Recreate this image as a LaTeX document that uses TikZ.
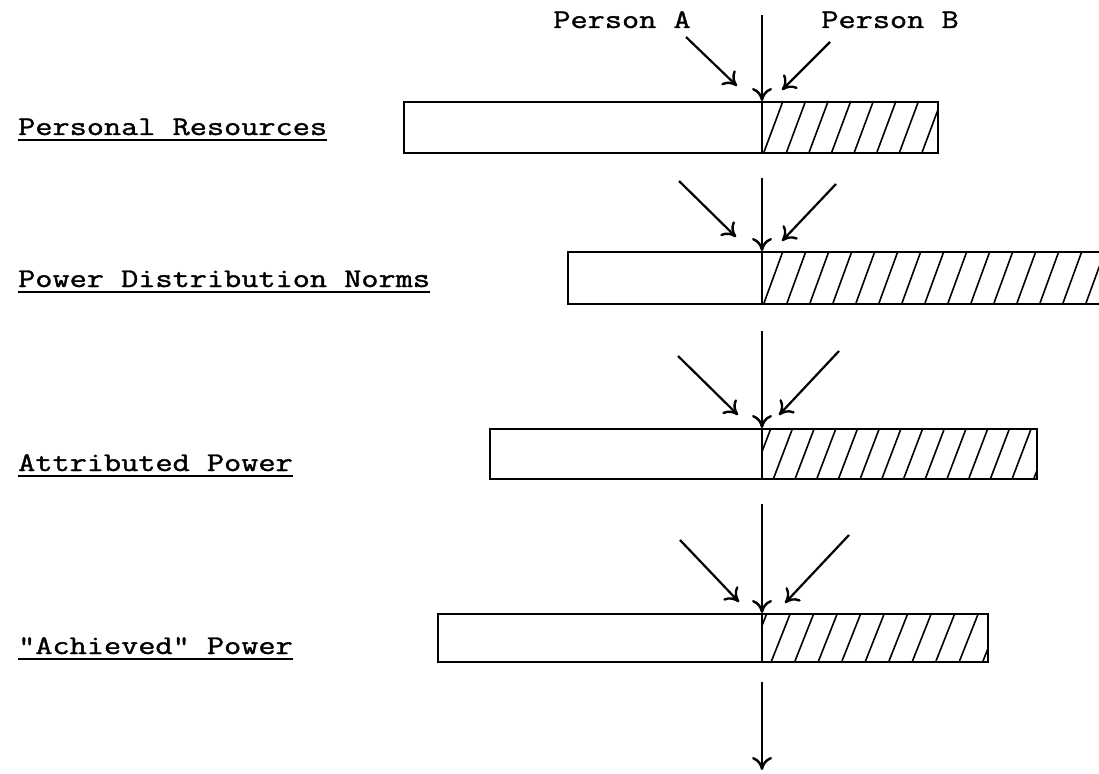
\documentclass[tikz,border=0pt]{standalone}
\usepackage{fontspec}
\newfontfamily\typew[FakeBold=1.2]{Latin Modern Mono}
\usetikzlibrary{arrows.meta}
\newcommand{\tw}[1]{\scalebox{1.234}[1]{\typew\fontsize{27}{30}\selectfont #1}}
\begin{document}
\begin{tikzpicture}[x=1pt,y=-1pt,
  lbl/.style={anchor=base west, inner sep=0pt},
  ptxt/.style={anchor=base, inner sep=0pt},
  uline/.style={line width=1.8pt},
  bar/.style={draw, line width=1.8pt, inner sep=0pt, anchor=north west},
  hatch/.style={line width=1.6pt},
  arr/.style={line width=2.2pt, -{Computer Modern Rightarrow[length=13pt,width=20pt,line width=2.4pt]}},
  varr/.style={line width=1.6pt, -{Computer Modern Rightarrow[length=13pt,width=20pt,line width=2.4pt]}},
  divider/.style={line width=1.6pt}]
\useasboundingbox (0,0) rectangle (1099,773);

% top labels
\node[ptxt] (pa) at (622,28) {\tw{Person A}};
\node[ptxt] (pb) at (890,28) {\tw{Person B}};

% row labels
\node[lbl] (l1) at (18,135) {\tw{Personal Resources}};
\node[lbl] (l2) at (18,287) {\tw{Power Distribution Norms}};
\node[lbl] (l3) at (18,471) {\tw{Attributed Power}};
\node[lbl] (l4) at (18,654) {\tw{"Achieved" Power}};
\foreach \l in {l1,l2,l3,l4}{
  \draw[uline] ([yshift=-5pt]\l.base west) -- ([yshift=-5pt]\l.base east);
}

% bars
\node[bar, minimum width=534pt, minimum height=51pt] (b1) at (403,101) {};
\node[bar, minimum width=545pt, minimum height=52pt] (b2) at (567,251) {};
\node[bar, minimum width=547pt, minimum height=50pt] (b3) at (489,428) {};
\node[bar, minimum width=550pt, minimum height=48pt] (b4) at (437,613) {};

% hatching: right edge / top / height / first top end / spacing
\foreach \r/\t/\h/\s/\p in {937/101/51/783/22.6, 1112/251/52/783/23, 1036/428/50/771/21.7, 987/613/48/767/23.5}{
  \begin{scope}
    \clip (762,\t) rectangle (\r,\t+\h);
    \foreach \i in {-1,...,16}{
      \draw[hatch] (\s+\i*\p-19,\t+\h) -- (\s+\i*\p,\t);
    }
  \end{scope}
  \draw[divider] (762,\t) -- (762,\t+\h);
}

% coordinates for arrows
\coordinate (v1s) at (762,15);
\coordinate (a1s) at (686,37);
\coordinate (a1e) at (737,86);
\coordinate (c1s) at (830,42);
\coordinate (c1e) at (782,90);

\coordinate (v2s) at (762,178);
\coordinate (a2s) at (679,181);
\coordinate (a2e) at (736,237);
\coordinate (c2s) at (836,184);
\coordinate (c2e) at (782,241);

\coordinate (v3s) at (762,331);
\coordinate (a3s) at (678,356);
\coordinate (a3e) at (738,415);
\coordinate (c3s) at (839,351);
\coordinate (c3e) at (779,415);

\coordinate (v4s) at (762,504);
\coordinate (a4s) at (680,540);
\coordinate (a4e) at (739,602);
\coordinate (c4s) at (849,535);
\coordinate (c4e) at (785,603);

\coordinate (v5s) at (762,682);
\coordinate (v5e) at (762,770);

\draw[varr] (v1s) -- (b1.north -| v1s);
\draw[arr] (a1s) -- (a1e);
\draw[arr] (c1s) -- (c1e);
\draw[varr] (v2s) -- (b2.north -| v2s);
\draw[arr] (a2s) -- (a2e);
\draw[arr] (c2s) -- (c2e);
\draw[varr] (v3s) -- (b3.north -| v3s);
\draw[arr] (a3s) -- (a3e);
\draw[arr] (c3s) -- (c3e);
\draw[varr] (v4s) -- (b4.north -| v4s);
\draw[arr] (a4s) -- (a4e);
\draw[arr] (c4s) -- (c4e);
\draw[varr] (v5s) -- (v5e);
\end{tikzpicture}
\end{document}
